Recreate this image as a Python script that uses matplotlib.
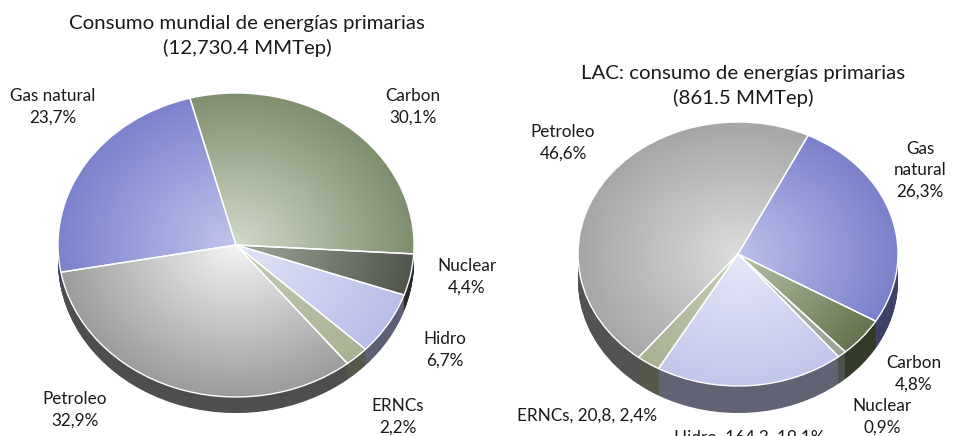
import numpy as np
import matplotlib
matplotlib.use('Agg')
import matplotlib.pyplot as plt
from matplotlib.colors import to_rgb

W, H = 954, 436

# ── data ───────────────────────────────────────────────────────────────────
world_cats  = ["Carbon", "Nuclear", "Hidro", "ERNCs", "Petroleo", "Gas natural"]
world_share = [30.1, 4.4, 6.7, 2.2, 32.9, 23.7]
world_text  = ["Carbon\n30,1%", "Nuclear\n4,4%", "Hidro\n6,7%", "ERNCs\n2,2%",
               "Petroleo\n32,9%", "Gas natural\n23,7%"]

lac_cats  = ["Gas natural", "Carbon", "Nuclear", "Hidro", "ERNCs", "Petroleo"]
lac_share = [26.3, 4.8, 0.9, 19.1, 2.4, 46.6]
lac_text  = ["Gas\nnatural\n26,3%", "Carbon\n4,8%", "Nuclear\n0,9%",
             "Hidro, 164,3, 19,1%", "ERNCs, 20,8, 2,4%", "Petroleo\n46,6%"]

titles = ["Consumo mundial de energías primarias\n(12,730.4 MMTep)",
          "LAC: consumo de energías primarias\n(861.5 MMTep)"]

# ── styling ────────────────────────────────────────────────────────────────
FONT = "Lato"
# (rim colour, centre colour) for each slice
world_rim = ["#7f8e6f", "#50564b", "#b9bee9", "#aab294", "#9c9c9c", "#7b82cc"]
world_in  = ["#d2dac9", "#a3a99a", "#e2e4f6", "#c5ccb2", "#f4f4f4", "#c0c4ec"]
lac_rim   = ["#7a81cb", "#65744f", "#9aa294", "#c2c6ea", "#aab294", "#a6a6a6"]
lac_in    = ["#bcc0ea", "#b7c3a8", "#b9bfb3", "#e6e8f8", "#c5ccb2", "#dcdcdc"]

world_pos = [(413, 107), (467, 277), (445, 350), (398, 417), (75, 410), (53, 107)]
lac_pos   = [(920, 170), (914, 374), (882, 417), (749, 438), (587, 416), (563, 143)]


def darken(c, f):
    return tuple(np.array(to_rgb(c)) * f)


def pie3d(ax, share, rim, inner, start, depth):
    side = [darken(c, 0.5) for c in rim]
    for t in np.linspace(depth, 0, 30):
        ax.pie(share, colors=side, startangle=start, counterclock=False,
               center=(0, -t), wedgeprops=dict(linewidth=0))
    wedges, _ = ax.pie(share, colors=rim, startangle=start, counterclock=False,
                       wedgeprops=dict(linewidth=0))
    xx, yy = np.meshgrid(np.linspace(-1, 1, 300), np.linspace(-1, 1, 300))
    r = np.clip(np.hypot(xx, yy), 0, 1)[..., None]
    for w, c_rim, c_in in zip(wedges, rim, inner):
        img = np.array(to_rgb(c_in)) * (1 - r) + np.array(to_rgb(c_rim)) * r
        im = ax.imshow(img, extent=(-1, 1, -1, 1), origin='lower', aspect='auto',
                       zorder=1.5, interpolation='bilinear')
        im.set_clip_path(w)
    ax.pie(share, colors=['none'] * len(share), startangle=start, counterclock=False,
           wedgeprops=dict(edgecolor='white', linewidth=1.0, zorder=2))
    ax.set_xlim(-1, 1)
    ax.set_ylim(-1 - depth, 1)
    ax.set_aspect('auto')
    ax.axis('off')


fig = plt.figure(figsize=(W / 100, H / 100), dpi=100)

# left pie: x 58..414, y 92..413 (px)
ax1 = fig.add_axes([58 / W, (H - 413) / H, 356 / W, 320 / H])
pie3d(ax1, world_share, world_rim, world_in, 105, 16 / 152)

# right pie: x 578..898, y 122..413 (px)
ax2 = fig.add_axes([578 / W, (H - 413) / H, 320 / W, 291 / H])
pie3d(ax2, lac_share, lac_rim, lac_in, 64, 27 / 132)

for txt, (x, y) in zip(world_text, world_pos):
    fig.text(x / W, 1 - y / H, txt, ha='center', va='center', family=FONT,
             fontsize=12.3, linespacing=1.4, color='#1a1a1a')
for txt, (x, y) in zip(lac_text, lac_pos):
    fig.text(x / W, 1 - y / H, txt, ha='center', va='center', family=FONT,
             fontsize=12.3, linespacing=1.4, color='#1a1a1a')

fig.text(247 / W, 1 - 36 / H, titles[0], ha='center', va='center', family=FONT,
         fontsize=14.7, linespacing=1.4, color='#1a1a1a')
fig.text(743 / W, 1 - 86 / H, titles[1], ha='center', va='center', family=FONT,
         fontsize=14.7, linespacing=1.4, color='#1a1a1a')

fig.savefig("out.png", dpi=100)
